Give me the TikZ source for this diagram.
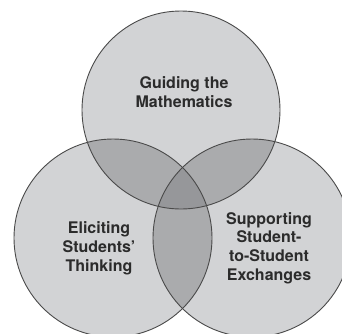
\documentclass[tikz,border=0pt]{standalone}
\usepackage{fontspec}
\setmainfont{TeX Gyre Heros}
\usetikzlibrary{positioning}
\definecolor{Single}{HTML}{D2D3D5}
\definecolor{Double}{HTML}{AAABAD}
\definecolor{Triple}{HTML}{96979A}
\definecolor{Rim}{HTML}{4A4A4A}
\definecolor{Ink}{HTML}{2B2B2B}
\begin{document}
\begin{tikzpicture}[
    x=1pt, y=-1pt,
    rim/.style={draw=Rim, line width=0.9pt},
    label/.style={font=\fontsize{16}{18.8}\selectfont\bfseries, color=Ink, align=center}
]
\useasboundingbox (0,0) rectangle (342,333);
\clip (0,0) rectangle (342,333);
\fill[white] (0,0) rectangle (342,333);

% Centres
\coordinate (math) at (181,110);
\coordinate (elicit) at (113,238);
\coordinate (support) at (252,238);

% Single areas
\fill[Single] (math) circle[radius=99pt];
\fill[Single] (elicit) circle[radius=99pt];
\fill[Single] (support) circle[radius=99pt];

% Pair overlaps
\begin{scope}
  \clip (math) circle[radius=99pt];
  \fill[Double] (elicit) circle[radius=99pt];
  \fill[Double] (support) circle[radius=99pt];
\end{scope}
\begin{scope}
  \clip (elicit) circle[radius=99pt];
  \fill[Double] (support) circle[radius=99pt];
\end{scope}

% Triple overlap
\begin{scope}
  \clip (math) circle[radius=99pt];
  \clip (elicit) circle[radius=99pt];
  \fill[Triple] (support) circle[radius=99pt];
\end{scope}

% Outlines
\draw[rim] (math) circle[radius=99pt];
\draw[rim] (elicit) circle[radius=99pt];
\draw[rim] (support) circle[radius=99pt];

% Labels
\node[label] (mathtxt) at (184,92) {Guiding the\\Mathematics};
\node[label] (elicittxt) at (99,248) {Eliciting\\Students'\\Thinking};
\node[label] (supporttxt) at (269,248) {Supporting\\Student-\\to-Student\\Exchanges};

\end{tikzpicture}
\end{document}
